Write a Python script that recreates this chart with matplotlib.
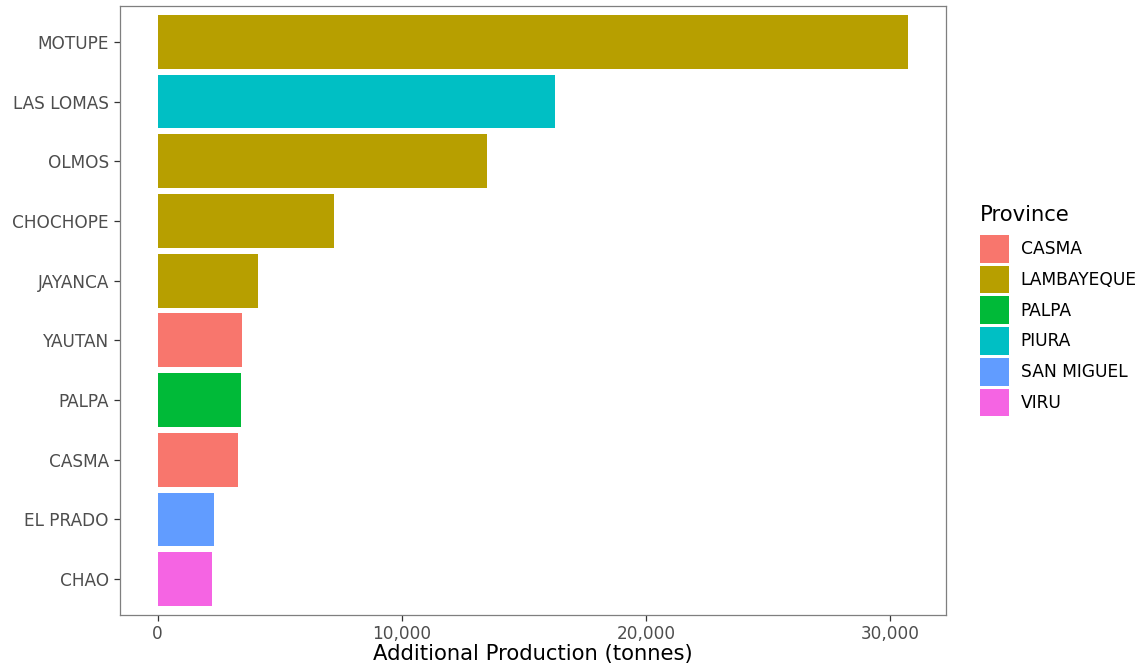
import matplotlib
matplotlib.use("Agg")
import matplotlib.pyplot as plt
from matplotlib.patches import Patch
from matplotlib.ticker import FuncFormatter

# Datos
districts = ["MOTUPE", "LAS LOMAS", "OLMOS", "CHOCHOPE", "JAYANCA",
             "YAUTAN", "PALPA", "CASMA", "EL PRADO", "CHAO"]
production = [30750, 16280, 13500, 7240, 4130, 3440, 3400, 3310, 2330, 2250]
province = ["LAMBAYEQUE", "PIURA", "LAMBAYEQUE", "LAMBAYEQUE", "LAMBAYEQUE",
            "CASMA", "PALPA", "CASMA", "SAN MIGUEL", "VIRU"]

provinces = ["CASMA", "LAMBAYEQUE", "PALPA", "PIURA", "SAN MIGUEL", "VIRU"]
colors = ["#F8766D", "#B79F00", "#00BA38", "#00BFC4", "#619CFF", "#F564E3"]
color_map = dict(zip(provinces, colors))

plt.rcParams["font.family"] = "DejaVu Sans"

fig = plt.figure(figsize=(11.41, 6.69), dpi=100)
ax = fig.add_axes([120 / 1141, 1 - 615 / 669, 826 / 1141, 609 / 669])

# barras horizontales, la primera categoría arriba
ypos = list(range(len(districts)))[::-1]
ax.barh(ypos, production, height=0.9,
        color=[color_map[p] for p in province], edgecolor="none")

ax.set_yticks(ypos)
ax.set_yticklabels(districts)
ax.set_ylim(-0.6, len(districts) - 0.4)
xmax = max(production)
ax.set_xlim(-0.05 * xmax, 1.05 * xmax)
ax.set_xticks([0, 10000, 20000, 30000])
ax.xaxis.set_major_formatter(FuncFormatter(lambda v, p: f"{int(v):,}"))

ax.set_xlabel("Additional Production (tonnes)", fontsize=15.2, color="black", labelpad=1)

for s in ax.spines.values():
    s.set_color("#7F7F7F")
    s.set_linewidth(0.9)
ax.tick_params(axis="both", colors="#333333", labelcolor="#4D4D4D",
               labelsize=12.2, length=4, width=0.9, pad=3)
ax.tick_params(axis="y", pad=4)

# leyenda
handles = [Patch(facecolor=c, edgecolor="none", label=p) for p, c in zip(provinces, colors)]
leg = fig.legend(handles=handles, title="Province", loc="upper left",
                 bbox_to_anchor=(973 / 1141, 1 - 198 / 669), frameon=False,
                 fontsize=12.3, title_fontsize=15.2, handlelength=1.7, handleheight=2.13,
                 labelspacing=0.17, handletextpad=0.7, borderaxespad=0)
leg._legend_box.align = "left"
leg._legend_box.sep = 7.2  # más espacio entre título y claves

fig.savefig("out.png", dpi=100)
